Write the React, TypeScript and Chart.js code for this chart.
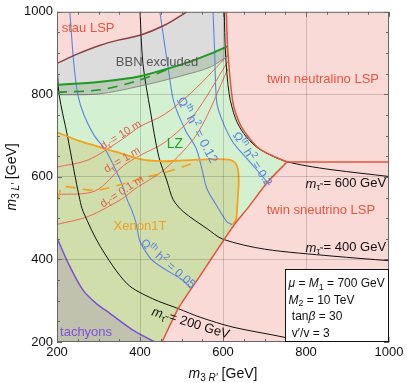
import React, { useEffect, useRef } from "react";
import { Chart, registerables } from "chart.js";

Chart.register(...registerables);

type P = [number, number];

// axis ranges and ticks (GeV)
const xRange: P = [200, 1000];
const yRange: P = [200, 1000];
const tickStep = 200;

// region boundaries (m3R', m3L') in GeV
const twinTop: P[] = [[608, 1000], [612, 899], [624, 780], [640, 730], [658, 701], [680, 675], [701, 660], [754, 636]];
const twinDiagonal: P[] = [[754, 636], [708, 588], [660, 525], [629, 487], [600, 444], [545, 361], [492, 281], [453, 200]];
const twinSplit: P[] = [[754, 636], [1000, 636]];
const stauBoundary: P[] = [[200, 875], [250, 898], [304, 919], [350, 932], [400, 943], [460, 968], [513, 1000]];
const lzLine: P[] = [[200, 823], [300, 830], [400, 844], [508, 875], [569, 898], [612, 917]];
const lzDashed: P[] = [[200, 805], [304, 811], [400, 835], [470, 862]];
const bbnLower: P[] = [[200, 799], [300, 801], [400, 820], [508, 847], [569, 866], [612, 893]];
const xenonLine: P[] = [[200, 708], [263, 684], [345, 660], [400, 643], [450, 638], [504, 640], [585, 643], [617, 641], [630, 633], [636, 619], [638, 590], [636, 557], [634, 520], [631, 495], [624, 485]];
const xenonDashed: P[] = [[203, 545], [207, 566], [214, 576], [240, 574], [263, 570], [300, 568], [359, 583], [417, 600], [448, 607], [513, 628], [540, 640]];
const tachyonLine: P[] = [[200, 452], [230, 385], [263, 325], [295, 293], [328, 269], [383, 229], [436, 200]];

// relic abundance contours
const omega005: P[] = [[231, 1000], [240, 880], [250, 800], [265, 750], [290, 700], [316, 667], [340, 620], [357, 581], [369, 545], [380, 520], [390, 490], [400, 444], [424, 404], [448, 384], [504, 349], [522, 330]];
const omega012: P[] = [[448, 1000], [458, 930], [470, 850], [482, 780], [510, 712], [535, 670], [549, 620], [561, 572], [585, 530], [609, 492], [622, 484]];
const omega02: P[] = [[576, 1000], [580, 900], [585, 780], [600, 732], [624, 684], [665, 636], [706, 588], [712, 580]];

// stau decay length contours
const decay10: P[] = [[200, 624], [275, 641], [357, 691], [400, 722], [460, 752], [530, 810], [612, 895]];
const decay1: P[] = [[200, 557], [292, 566], [360, 627], [400, 652], [460, 684], [530, 750], [612, 880]];
const decay01: P[] = [[200, 485], [275, 504], [357, 547], [388, 571], [460, 619], [540, 708], [612, 862]];

// lightest stau mass contours
const mStau200: P[] = [[200, 880], [205, 800], [225, 700], [240, 620], [255, 545], [263, 516], [304, 432], [369, 341], [430, 305], [492, 281], [545, 260], [624, 236], [745, 212], [790, 200]];
const mStau400: P[] = [[400, 1000], [407, 875], [425, 760], [445, 650], [465, 590], [480, 545], [504, 516], [561, 475], [600, 449], [700, 425], [865, 408], [1000, 397]];
const mStau600: P[] = [[603, 1000], [606, 900], [615, 800], [630, 742], [650, 705], [680, 673], [720, 650], [754, 637], [800, 627], [865, 617], [1000, 601]];

const frame: P[] = [[xRange[0], yRange[0]], [xRange[1], yRange[0]], [xRange[1], yRange[1]], [xRange[0], yRange[1]]];

const pts = (a: P[]) => a.map(([x, y]) => ({ x, y }));

function region(data: P[], color: string) {
  return {
    data: pts(data),
    fill: "shape",
    backgroundColor: color,
    borderColor: "rgba(0,0,0,0)",
    borderWidth: 0,
    pointRadius: 0,
    tension: 0,
  };
}
function curve(data: P[], color: string, width: number, dash: number[] = [], tension = 0.3) {
  return {
    data: pts(data),
    fill: false,
    backgroundColor: color,
    borderColor: color,
    borderWidth: width,
    borderDash: dash,
    pointRadius: 0,
    tension,
  };
}

const C = {
  green: "#d3f0d1",
  olive: "#cfdeaa",
  tach: "#c0c2ae",
  gray: "#dcdcdc",
  band: "#bccbba",
  pink: "#f9dad6",
};

type Part = { t: string; it?: boolean; sub?: boolean; sup?: boolean };
const FONT = '"Liberation Sans", Arial, sans-serif';

function drawRich(ctx: CanvasRenderingContext2D, parts: Part[], size: number, x: number, y: number, color: string, align = "center", angle = 0) {
  const font = (p: Part) => `${p.it ? "italic " : ""}${p.sub || p.sup ? Math.round(size * 0.72) : size}px ${FONT}`;
  const widths = parts.map((p) => {
    ctx.font = font(p);
    return ctx.measureText(p.t).width;
  });
  const total = widths.reduce((s, w) => s + w, 0);
  ctx.save();
  ctx.translate(x, y);
  ctx.rotate((angle * Math.PI) / 180);
  ctx.fillStyle = color;
  ctx.textBaseline = "middle";
  ctx.textAlign = "left";
  let cx = align === "center" ? -total / 2 : align === "right" ? -total : 0;
  parts.forEach((p, i) => {
    ctx.font = font(p);
    const dy = p.sub ? size * 0.3 : p.sup ? -size * 0.35 : 0;
    ctx.fillText(p.t, cx, dy);
    cx += widths[i];
  });
  ctx.restore();
}

const tau = "τ̃";
const mLabel = (v: string): Part[] => [{ t: "m", it: true }, { t: tau, sub: true }, { t: ` = ${v} GeV` }];
const dLabel = (v: string): Part[] => [{ t: "d" }, { t: tau, sub: true }, { t: ` = ${v} m` }];
const omegaLabel = (v: string): Part[] => [{ t: "Ω" }, { t: "th", sup: true }, { t: " h" }, { t: "2", sup: true }, { t: ` = ${v}` }];

type Label = { x: number; y: number; parts: Part[]; size: number; color: string; angle?: number; align?: string };
const labels: Label[] = [
  { x: 275, y: 959, parts: [{ t: "stau LSP" }], size: 13, color: "#e8553f" },
  { x: 441, y: 878, parts: [{ t: "BBN excluded" }], size: 13, color: "#555555" },
  { x: 841, y: 837, parts: [{ t: "twin neutralino LSP" }], size: 13, color: "#e8553f" },
  { x: 836, y: 519, parts: [{ t: "twin sneutrino LSP" }], size: 13, color: "#e8553f" },
  { x: 484, y: 679, parts: [{ t: "LZ" }], size: 14, color: "#22a022" },
  { x: 400, y: 480, parts: [{ t: "Xenon1T" }], size: 13, color: "#f2a021" },
  { x: 270, y: 224, parts: [{ t: "tachyons" }], size: 13, color: "#7f4fdc" },
  { x: 896, y: 583, parts: mLabel("600"), size: 13, color: "#111" },
  { x: 896, y: 428, parts: mLabel("400"), size: 13, color: "#111" },
  { x: 522, y: 245, parts: mLabel("200"), size: 13, color: "#111", angle: 17 },
  { x: 537, y: 713, parts: omegaLabel("0.12"), size: 13, color: "#5a80e0", angle: 62 },
  { x: 670, y: 643, parts: omegaLabel("0.2"), size: 12, color: "#5a80e0", angle: 57 },
  { x: 467, y: 389, parts: omegaLabel("0.05"), size: 12, color: "#5a80e0", angle: 41 },
  { x: 354, y: 701, parts: dLabel("10"), size: 11, color: "#e06050", angle: -32 },
  { x: 357, y: 641, parts: dLabel("1"), size: 11, color: "#e06050", angle: -31 },
  { x: 357, y: 564, parts: dLabel("0.1"), size: 11, color: "#e06050", angle: -33 },
];

const paramLines: Part[][] = [
  [{ t: "μ", it: true }, { t: " = " }, { t: "M", it: true }, { t: "1", sub: true }, { t: " = 700 GeV" }],
  [{ t: "M", it: true }, { t: "2", sub: true }, { t: " = 10 TeV" }],
  [{ t: " tan" }, { t: "β", it: true }, { t: " = 30" }],
  [{ t: " v′/v = 3" }],
];

const overlay = {
  id: "overlay",
  afterDraw(chart: any) {
    const { ctx, chartArea: a, scales } = chart;
    const sx = scales.x;
    const sy = scales.y;
    ctx.save();
    // inward ticks
    ctx.strokeStyle = "#666";
    ctx.lineWidth = 1;
    for (let v = xRange[0]; v <= xRange[1]; v += 50) {
      const len = v % tickStep === 0 ? 5 : 3;
      const px = Math.round(sx.getPixelForValue(v)) + 0.5;
      ctx.beginPath();
      ctx.moveTo(px, a.bottom); ctx.lineTo(px, a.bottom - len);
      ctx.moveTo(px, a.top); ctx.lineTo(px, a.top + len);
      ctx.stroke();
    }
    for (let v = yRange[0]; v <= yRange[1]; v += 50) {
      const len = v % tickStep === 0 ? 5 : 3;
      const py = Math.round(sy.getPixelForValue(v)) + 0.5;
      ctx.beginPath();
      ctx.moveTo(a.left, py); ctx.lineTo(a.left + len, py);
      ctx.moveTo(a.right, py); ctx.lineTo(a.right - len, py);
      ctx.stroke();
    }
    // frame
    ctx.strokeStyle = "#666";
    ctx.strokeRect(a.left + 0.5, a.top + 0.5, a.right - a.left - 1, a.bottom - a.top - 1);
    ctx.restore();

    for (const l of labels) {
      drawRich(ctx, l.parts, l.size, sx.getPixelForValue(l.x), sy.getPixelForValue(l.y), l.color, l.align || "center", l.angle || 0);
    }

    // parameter box
    const bw = 104, bh = 72;
    const bx = a.right - bw + 0.5, by = a.bottom - bh - 0.5;
    ctx.save();
    ctx.fillStyle = "#fff";
    ctx.fillRect(bx, by, bw, bh);
    ctx.strokeStyle = "#111";
    ctx.lineWidth = 1;
    ctx.strokeRect(bx, by, bw - 1, bh);
    ctx.restore();
    paramLines.forEach((ln, i) => drawRich(ctx, ln, 12, bx + 3, by + 14 + i * 16.7, "#111", "left", 0));

    // axis titles
    drawRich(ctx, [{ t: "m", it: true }, { t: "3 ", sub: true }, { t: "R′", sub: true, it: true }, { t: " [GeV]" }], 14, (a.left + a.right) / 2, 374, "#111", "center", 0);
    drawRich(ctx, [{ t: "m", it: true }, { t: "3 ", sub: true }, { t: "L′", sub: true, it: true }, { t: " [GeV]" }], 14, 12, (a.top + a.bottom) / 2, "#111", "center", -90);
  },
};

export default function App() {
  const ref = useRef<HTMLCanvasElement | null>(null);
  useEffect(() => {
    document.body.style.margin = "0";
    const canvas = ref.current;
    if (!canvas) return;

    const xenonPoly: P[] = [...xenonLine, ...twinDiagonal.filter(([, y]) => y < 480), [xRange[0], yRange[0]]];
    const tachPoly: P[] = [...tachyonLine, [xRange[0], yRange[0]]];
    const grayPoly: P[] = [...lzLine, [609, yRange[1]], [xRange[0], yRange[1]]];
    const bandPoly: P[] = [...lzLine, ...[...bbnLower].reverse()];
    const stauPoly: P[] = [...stauBoundary, [xRange[0], yRange[1]]];
    const twinPoly: P[] = [...twinTop, ...twinDiagonal.slice(1), [xRange[1], yRange[0]], [xRange[1], yRange[1]]];

    const layers: any[] = [
      region(frame, C.green),
      region(xenonPoly, C.olive),
      region(tachPoly, C.tach),
      region(grayPoly, C.gray),
      region(bandPoly, C.band),
      region(stauPoly, C.pink),
      region(twinPoly, C.pink),
      curve(omega005, "#5a83e6", 1.1),
      curve(omega012, "#5a83e6", 1.1),
      curve(omega02, "#5a83e6", 1.1),
      curve(decay10, "#e86a55", 1),
      curve(decay1, "#e86a55", 1),
      curve(decay01, "#e86a55", 1),
      curve(mStau200, "#111", 1),
      curve(mStau400, "#111", 1),
      curve(mStau600, "#111", 1),
      curve(xenonLine, "#f5a11c", 1.8),
      curve(xenonDashed, "#f5a11c", 1.6, [10, 7]),
      curve(bbnLower, "#888", 1),
      curve(lzLine, "#1f9a1f", 2),
      curve(lzDashed, "#1f9a1f", 1.6, [10, 7]),
      curve(stauBoundary, "#8a4040", 1.5),
      curve(tachyonLine, "#7d4fd8", 1.5),
      curve(twinTop, "#e4533a", 1.5),
      curve(twinDiagonal, "#e4533a", 1.5, [], 0.2),
      curve(twinSplit, "#e4533a", 1.5, [], 0),
    ];
    const datasets = layers.map((d, i) => ({ ...d, order: -i }));

    const chart = new Chart(canvas, {
      type: "line",
      data: { datasets },
      plugins: [overlay],
      options: {
        responsive: false,
        animation: false,
        events: [],
        layout: { padding: { top: 8, right: 18, left: 0, bottom: 0 } },
        plugins: { legend: { display: false }, tooltip: { enabled: false }, title: { display: false } },
        scales: {
          x: {
            type: "linear",
            min: xRange[0],
            max: xRange[1],
            afterFit: (s: any) => { s.height = 41; },
            border: { display: false },
            grid: {
              z: 1,
              drawTicks: false,
              color: (c: any) => (c.tick && (c.tick.value === xRange[0] || c.tick.value === xRange[1]) ? "rgba(0,0,0,0)" : "rgba(0,0,0,0.16)"),
            },
            ticks: { stepSize: tickStep, padding: 3, color: "#111", font: { family: FONT, size: 13 }, maxRotation: 0, callback: (v: any) => String(v) },
          },
          y: {
            type: "linear",
            min: yRange[0],
            max: yRange[1],
            afterFit: (s: any) => { s.width = 57; },
            border: { display: false },
            grid: {
              z: 1,
              drawTicks: false,
              color: (c: any) => (c.tick && (c.tick.value === yRange[0] || c.tick.value === yRange[1]) ? "rgba(0,0,0,0)" : "rgba(0,0,0,0.16)"),
            },
            ticks: { stepSize: tickStep, padding: 4, color: "#111", font: { family: FONT, size: 13 }, callback: (v: any) => String(v) },
          },
        },
      } as any,
    });
    return () => chart.destroy();
  }, []);

  return (
    <div style={{ width: 407, height: 383 }}>
      <canvas ref={ref} width={407} height={383} style={{ display: "block" }} />
    </div>
  );
}
